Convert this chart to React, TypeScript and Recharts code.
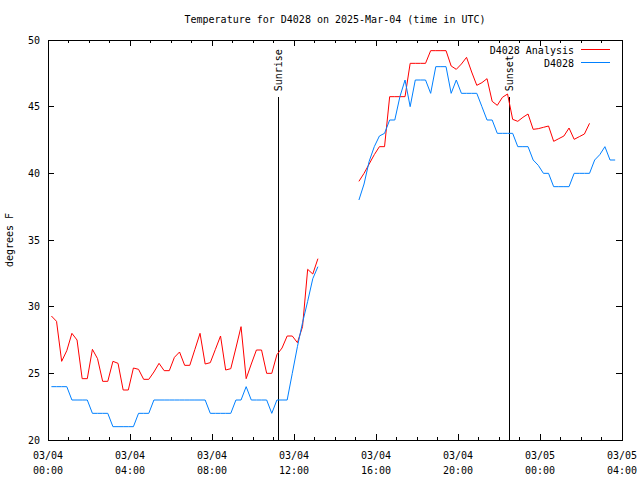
// Temperature for D4028 on 2025-Mar-04 — analysis vs. observed, gnuplot look.
import { LineChart, Line, XAxis, YAxis, ReferenceLine, ReferenceArea, ReferenceDot } from "recharts";

const FONT = "DejaVu Sans Mono";
const PLOT_LEFT = 48;
const PLOT_RIGHT = 622;
const PLOT_TOP = 40;
const PLOT_BOTTOM = 440;

// samples every 15 minutes, first one at 00:10 UTC (hours since 03/04 00:00)
const firstSampleHour = 10 / 60;
const sampleStepHours = 0.25;

const analysis: (number | null)[] = [
  29.3, 28.9, 25.9, 26.7, 28.0, 27.5, 24.6, 24.6, 26.8, 26.1,
  24.4, 24.4, 25.9, 25.75, 23.75, 23.75, 25.4, 25.3, 24.55, 24.55,
  25.1, 25.75, 25.2, 25.2, 26.2, 26.6, 25.6, 25.6, 26.8, 28.0,
  25.7, 25.8, 26.8, 27.8, 25.25, 25.35, 26.9, 28.5, 24.6, 25.7,
  26.75, 26.75, 25.0, 25.0, 26.4, 26.9, 27.8, 27.8, 27.3, 28.5,
  32.8, 32.45, 33.6, null, null, null, null, null, null, null,
  39.4, 40.0, 40.7, 41.4, 42.0, 42.0, 45.75, 45.75, 45.75, 45.75,
  48.25, 48.25, 48.25, 48.25, 49.2, 49.2, 49.2, 49.2, 48.05, 47.8,
  48.2, 48.7, 47.6, 46.6, 46.8, 47.1, 45.4, 45.1, 45.7, 45.95,
  44.05, 43.9, 44.2, 44.45, 43.3, 43.35, 43.45, 43.55, 42.4, 42.6,
  42.8, 43.4, 42.55, 42.75, 42.95, 43.75, null, null, null, null,
  null,
];

const observed: (number | null)[] = [
  24, 24, 24, 24, 23, 23, 23, 23, 22, 22,
  22, 22, 21, 21, 21, 21, 21, 22, 22, 22,
  23, 23, 23, 23, 23, 23, 23, 23, 23, 23,
  23, 22, 22, 22, 22, 22, 23, 23, 24, 23,
  23, 23, 23, 22, 23, 23, 23, 25, 27, 28.8,
  30.4, 32.1, 33.0, null, null, null, null, null, null, null,
  38.0, 39.2, 40.9, 42.0, 42.8, 43.0, 44.0, 44.0, 45.75, 47.0,
  45.0, 47.0, 47.0, 47.0, 46.0, 48.0, 48.0, 48.0, 46.0, 47.0,
  46.0, 46.0, 46.0, 46.0, 45.0, 44.0, 44.0, 43.0, 43.0, 43.0,
  43.0, 42.0, 42.0, 42.0, 41.0, 40.6, 40.0, 40.0, 39.0, 39.0,
  39.0, 39.0, 40.0, 40.0, 40.0, 40.0, 41.0, 41.4, 42.0, 41.0,
  41.0,
];

const hourTicks = [0, 1, 2, 3, 4, 5, 6, 7, 8, 9, 10, 11, 12, 13, 14, 15, 16, 17, 18, 19, 20, 21, 22, 23, 24, 25, 26, 27, 28];
const tickDates = ["03/04", "03/04", "03/04", "03/04", "03/04", "03/04", "03/05", "03/05"];
const tickTimes = ["00:00", "04:00", "08:00", "12:00", "16:00", "20:00", "00:00", "04:00"];
const tempTicks = [20, 25, 30, 35, 40, 45, 50];

const sunriseHour = 11.24;
const sunsetHour = 22.5;
const markerTop = 45.7;

const rows = analysis.map((a, i) => ({
  t: firstSampleHour + i * sampleStepHours,
  analysis: a,
  observed: observed[i],
}));

function XTick({ x, payload }: any) {
  const h = payload.value;
  const major = h % 4 === 0;
  const len = major ? 6 : 3;
  const i = h / 4;
  return (
    <g shapeRendering="crispEdges">
      <line x1={x} x2={x} y1={PLOT_BOTTOM} y2={PLOT_BOTTOM - len} stroke="#000" />
      <line x1={x} x2={x} y1={PLOT_TOP} y2={PLOT_TOP + len} stroke="#000" />
      {major && (
        <text x={x} y={459} textAnchor="middle" fontFamily={FONT} fontSize={10} fill="#000">
          {tickDates[i]}
        </text>
      )}
      {major && (
        <text x={x} y={474} textAnchor="middle" fontFamily={FONT} fontSize={10} fill="#000">
          {tickTimes[i]}
        </text>
      )}
    </g>
  );
}

function YTick({ y, payload }: any) {
  return (
    <g shapeRendering="crispEdges">
      <line x1={PLOT_LEFT} x2={PLOT_LEFT + 6} y1={y} y2={y} stroke="#000" />
      <line x1={PLOT_RIGHT - 6} x2={PLOT_RIGHT} y1={y} y2={y} stroke="#000" />
      <text x={40} y={y + 3.5} textAnchor="end" fontFamily={FONT} fontSize={10} fill="#000">
        {payload.value}
      </text>
    </g>
  );
}

// rotated label sitting on top of a sunrise/sunset marker
const markerLabel = (label: string) => (p: any) => {
  const bx = p.cx + 4;
  const by = p.cy - 6;
  return (
    <text x={bx} y={by} transform={`rotate(-90 ${bx} ${by})`} fontFamily={FONT} fontSize={10} fill="#000">
      {label}
    </text>
  );
};

export default function App() {
  return (
    <div style={{ position: "absolute", left: 0, top: 0, width: 640, height: 480, background: "#fff" }}>
      <LineChart
        width={640}
        height={480}
        data={rows}
        margin={{ top: PLOT_TOP, right: 640 - PLOT_RIGHT, bottom: 0, left: 0 }}
      >
        <XAxis
          dataKey="t"
          type="number"
          domain={[0, 28]}
          ticks={hourTicks}
          interval={0}
          height={40}
          axisLine={false}
          tickLine={false}
          tick={<XTick />}
        />
        <YAxis
          type="number"
          domain={[20, 50]}
          ticks={tempTicks}
          interval={0}
          width={PLOT_LEFT}
          axisLine={false}
          tickLine={false}
          tick={<YTick />}
        />
        <ReferenceArea x1={0} x2={28} y1={20} y2={50} fill="none" fillOpacity={0} stroke="#000" strokeWidth={1} shapeRendering="crispEdges" />
        <ReferenceLine segment={[{ x: sunriseHour, y: 20 }, { x: sunriseHour, y: markerTop }]} stroke="#000" shapeRendering="crispEdges" />
        <ReferenceLine segment={[{ x: sunsetHour, y: 20 }, { x: sunsetHour, y: markerTop }]} stroke="#000" shapeRendering="crispEdges" />
        <ReferenceDot x={sunriseHour} y={markerTop} r={1} shape={markerLabel("Sunrise")} />
        <ReferenceDot x={sunsetHour} y={markerTop} r={1} shape={markerLabel("Sunset")} />
        <Line
          type="linear"
          dataKey="analysis"
          stroke="#ff0000"
          strokeWidth={1}
          dot={false}
          activeDot={false}
          connectNulls={false}
          isAnimationActive={false}
        />
        <Line
          type="linear"
          dataKey="observed"
          stroke="#0080ff"
          strokeWidth={1}
          dot={false}
          activeDot={false}
          connectNulls={false}
          isAnimationActive={false}
        />
      </LineChart>

      {/* title, axis label and key, drawn like gnuplot does */}
      <svg width={640} height={480} style={{ position: "absolute", left: 0, top: 0, pointerEvents: "none" }}>
        <text x={335} y={23} textAnchor="middle" fontFamily={FONT} fontSize={10} fill="#000">
          Temperature for D4028 on 2025-Mar-04 (time in UTC)
        </text>
        <text x={13} y={240} transform="rotate(-90 13 240)" textAnchor="middle" fontFamily={FONT} fontSize={10} fill="#000">
          degrees F
        </text>
        <text x={574} y={54} textAnchor="end" fontFamily={FONT} fontSize={10} fill="#000">
          D4028 Analysis
        </text>
        <line x1={581} x2={610} y1={49.5} y2={49.5} stroke="#ff0000" />
        <text x={574} y={67} textAnchor="end" fontFamily={FONT} fontSize={10} fill="#000">
          D4028
        </text>
        <line x1={581} x2={610} y1={62.5} y2={62.5} stroke="#0080ff" />
      </svg>
    </div>
  );
}
